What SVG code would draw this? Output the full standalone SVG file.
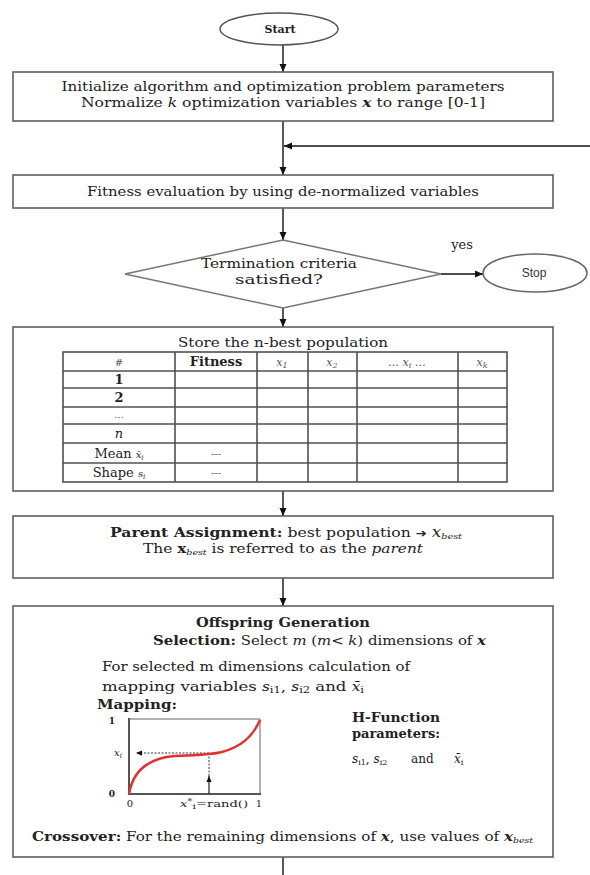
<svg xmlns="http://www.w3.org/2000/svg" width="590" height="875" viewBox="0 0 590 875">
<defs>
<style>
.box{fill:#fff;stroke:#606060;stroke-width:1.6}
.ln{stroke:#111;stroke-width:1.4;fill:none}
.t{font-family:"DejaVu Serif","Liberation Serif",serif;font-size:13px;fill:#222}
.s{font-family:"Liberation Sans",Arial,sans-serif;font-size:12px;fill:#333}
.b{font-weight:bold}
.i{font-style:italic}
.g{fill:#555}
.tbl{stroke:#505050;stroke-width:1.6;fill:none}
.sm{font-size:10px}
.sub{font-size:8px}
.hp{font-size:12px}
</style>
<marker id="ah" viewBox="0 0 8 8" refX="8" refY="4" markerWidth="8" markerHeight="8" markerUnits="userSpaceOnUse" orient="auto">
<path d="M0,0.5 L8,4 L0,7.5 z" fill="#111"/>
</marker>
<marker id="ahs" viewBox="0 0 8 8" refX="8" refY="4" markerWidth="6" markerHeight="6" markerUnits="userSpaceOnUse" orient="auto">
<path d="M0,0.5 L8,4 L0,7.5 z" fill="#111"/>
</marker>
</defs>
<rect width="590" height="875" fill="#fff"/>

<g id="connectors">
<line class="ln" x1="283" y1="45" x2="283" y2="72" marker-end="url(#ah)"/>
<line class="ln" x1="283" y1="121" x2="283" y2="175" marker-end="url(#ah)"/>
<line class="ln" x1="590" y1="146" x2="284" y2="146" marker-end="url(#ah)"/>
<line class="ln" x1="283" y1="208" x2="283" y2="240" marker-end="url(#ah)"/>
<line class="ln" x1="441" y1="274" x2="483" y2="274" marker-end="url(#ah)"/>
<line class="ln" x1="283" y1="308" x2="283" y2="327" marker-end="url(#ah)"/>
<line class="ln" x1="283" y1="491" x2="283" y2="516" marker-end="url(#ah)"/>
<line class="ln" x1="283" y1="578" x2="283" y2="606" marker-end="url(#ah)"/>
<line class="ln" x1="283" y1="857" x2="283" y2="875"/>
</g>

<g id="start">
<ellipse cx="279" cy="29" rx="59" ry="16" fill="#fff" stroke="#555" stroke-width="1.5"/>
<text class="t b" x="280" y="33" text-anchor="middle" style="font-size:11px">Start</text>
</g>

<g id="init">
<rect class="box" x="13" y="72" width="540" height="49"/>
<text class="t" x="283" y="91" text-anchor="middle" textLength="443" lengthAdjust="spacingAndGlyphs">Initialize algorithm and optimization problem parameters</text>
<text class="t" x="283" y="107" text-anchor="middle" textLength="404" lengthAdjust="spacingAndGlyphs">Normalize <tspan class="i">k</tspan> optimization variables <tspan class="b i">x</tspan> to range [0-1]</text>
</g>

<g id="fitness">
<rect class="box" x="13" y="175" width="540" height="33"/>
<text class="t" x="283" y="196" text-anchor="middle" textLength="392" lengthAdjust="spacingAndGlyphs">Fitness evaluation by using de-normalized variables</text>
</g>

<g id="termination">
<polygon points="283,240 441,274 283,308 125,274" fill="#fff" stroke="#777" stroke-width="1.5"/>
<text class="t" x="279" y="268" text-anchor="middle" textLength="156" lengthAdjust="spacingAndGlyphs">Termination criteria</text>
<text class="t" x="279" y="284" text-anchor="middle" textLength="88" lengthAdjust="spacingAndGlyphs">satisfied?</text>
<text class="t" x="462" y="249" text-anchor="middle">yes</text>
</g>

<g id="stop">
<ellipse cx="535" cy="273" rx="52" ry="19" fill="#fff" stroke="#666" stroke-width="1.5"/>
<text class="s" x="534" y="277" text-anchor="middle">Stop</text>
</g>

<g id="store">
<rect class="box" x="13" y="327" width="540" height="164"/>
<text class="t" x="283" y="347" text-anchor="middle" textLength="210" lengthAdjust="spacingAndGlyphs">Store the n-best population</text>
<g class="tbl">
<rect x="63" y="352" width="444" height="130"/>
<line x1="63" y1="371" x2="507" y2="371"/>
<line x1="63" y1="388" x2="507" y2="388"/>
<line x1="63" y1="407" x2="507" y2="407"/>
<line x1="63" y1="424" x2="507" y2="424"/>
<line x1="63" y1="443" x2="507" y2="443"/>
<line x1="63" y1="463" x2="507" y2="463"/>
<line x1="175" y1="352" x2="175" y2="482"/>
<line x1="257" y1="352" x2="257" y2="482"/>
<line x1="308" y1="352" x2="308" y2="482"/>
<line x1="357" y1="352" x2="357" y2="482"/>
<line x1="458" y1="352" x2="458" y2="482"/>
</g>
<text class="t g sm" x="119" y="366" text-anchor="middle">#</text>
<text class="t b" x="216" y="366" text-anchor="middle">Fitness</text>
<text class="t i g" x="282" y="366" text-anchor="middle" style="font-size:11px">x<tspan dy="2" class="sub">1</tspan></text>
<text class="t i g" x="332" y="366" text-anchor="middle" style="font-size:11px">x<tspan dy="2" class="sub">2</tspan></text>
<text class="t i g" x="407" y="366" text-anchor="middle" style="font-size:11px"><tspan style="font-style:normal">…</tspan> x<tspan dy="2" class="sub">i</tspan><tspan dy="-2" style="font-style:normal"> …</tspan></text>
<text class="t i g" x="482" y="366" text-anchor="middle" style="font-size:11px">x<tspan dy="2" class="sub">k</tspan></text>
<text class="t b" x="119" y="384" text-anchor="middle">1</text>
<text class="t b" x="119" y="402" text-anchor="middle">2</text>
<text class="t g sm" x="119" y="418" text-anchor="middle">…</text>
<text class="t i" x="119" y="438" text-anchor="middle">n</text>
<text class="t" x="119" y="458" text-anchor="middle">Mean  <tspan class="i sm">x̄</tspan><tspan class="i" dy="2" style="font-size:7px">i</tspan></text>
<text class="t" x="119" y="477" text-anchor="middle">Shape <tspan class="i sm">s</tspan><tspan class="i" dy="2" style="font-size:7px">i</tspan></text>
<text class="t g sm" x="216" y="457" text-anchor="middle">---</text>
<text class="t g sm" x="216" y="476" text-anchor="middle">---</text>
</g>

<g id="parent">
<rect class="box" x="13" y="516" width="540" height="62"/>
<text class="t" x="286" y="537" text-anchor="middle" textLength="352" lengthAdjust="spacingAndGlyphs"><tspan class="b">Parent Assignment:</tspan> best population <tspan class="b" style="font-family:'DejaVu Sans',sans-serif;font-size:11px">➔</tspan> <tspan class="i" style="font-size:14px">x</tspan><tspan class="i sub" dy="2">best</tspan></text>
<text class="t" x="283" y="553" text-anchor="middle" textLength="280" lengthAdjust="spacingAndGlyphs">The <tspan class="b">x</tspan><tspan class="i sub" dy="2">best</tspan><tspan dy="-2"> is referred to as the </tspan><tspan class="i">parent</tspan></text>
</g>

<g id="offspring">
<rect class="box" x="13" y="606" width="540" height="251"/>
<text class="t b" x="283" y="627" text-anchor="middle" textLength="174" lengthAdjust="spacingAndGlyphs">Offspring Generation</text>
<text class="t" x="153" y="645" textLength="333" lengthAdjust="spacingAndGlyphs"><tspan class="b">Selection:</tspan> Select <tspan class="i">m</tspan> (<tspan class="i">m</tspan>&lt; <tspan class="i">k</tspan>) dimensions of <tspan class="b i">x</tspan></text>
<text class="t" x="102" y="671" textLength="308" lengthAdjust="spacingAndGlyphs">For selected m dimensions calculation of</text>
<text class="t" x="102" y="691" textLength="262" lengthAdjust="spacingAndGlyphs">mapping variables <tspan class="i" style="font-size:12px">s</tspan><tspan dy="2" style="font-size:9px">i1</tspan><tspan dy="-2">, </tspan><tspan class="i" style="font-size:12px">s</tspan><tspan dy="2" style="font-size:9px">i2</tspan><tspan dy="-2">   and   </tspan><tspan class="i" style="font-size:12px">x̄</tspan><tspan dy="2" style="font-size:9px">i</tspan></text>
<text class="t b" x="97" y="709" textLength="80" lengthAdjust="spacingAndGlyphs">Mapping:</text>
<text class="t b" x="352" y="722" textLength="88" lengthAdjust="spacingAndGlyphs">H-Function</text>
<text class="t b" x="352" y="738" textLength="88" lengthAdjust="spacingAndGlyphs">parameters:</text>
<text class="t hp" x="352" y="763"><tspan class="i">s</tspan><tspan dy="2" class="sub">i1</tspan><tspan dy="-2">, </tspan><tspan class="i">s</tspan><tspan dy="2" class="sub">i2</tspan></text>
<text class="t hp" x="411" y="763">and</text>
<text class="t hp" x="454" y="763"><tspan class="i">x̄</tspan><tspan dy="2" class="sub">i</tspan></text>
<g id="mapping-chart">
<line x1="129" y1="719" x2="260" y2="719" stroke="#999" stroke-width="1.5"/>
<line x1="260" y1="719" x2="260" y2="794" stroke="#999" stroke-width="1.5"/>
<line x1="129" y1="718" x2="129" y2="794" stroke="#555" stroke-width="2"/>
<line x1="128" y1="794" x2="261" y2="794" stroke="#555" stroke-width="2"/>
<line x1="209" y1="753" x2="136" y2="753" stroke="#333" stroke-width="1" stroke-dasharray="2,1.5" marker-end="url(#ahs)"/>
<line x1="209" y1="794" x2="209" y2="776" stroke="#222" stroke-width="1.2" marker-end="url(#ahs)"/>
<line x1="209" y1="776" x2="209" y2="753" stroke="#333" stroke-width="1" stroke-dasharray="2,1.5"/>
<path d="M129,794 C133,770 150,758 175,756 C195,755 210,755 222,752 C240,747 252,738 260,720" fill="none" stroke="#e03030" stroke-width="2.5"/>
<text class="t b" x="112" y="724" text-anchor="middle" style="font-size:9px">1</text>
<text class="t b" x="112" y="797" text-anchor="middle" style="font-size:9px">0</text>
<text class="t i" x="118" y="756" text-anchor="middle" style="font-size:10px">x<tspan dy="2" style="font-size:7px">i</tspan></text>
<text class="t" x="130" y="807" text-anchor="middle" style="font-size:10px">0</text>
<text class="t" x="214" y="807" text-anchor="middle" style="font-size:10px" textLength="68" lengthAdjust="spacingAndGlyphs"><tspan class="i">x</tspan><tspan dy="-3" style="font-size:8px">*</tspan><tspan dy="5" style="font-size:8px">i</tspan><tspan dy="-2">=rand()</tspan></text>
<text class="t" x="259" y="807" text-anchor="middle" style="font-size:10px">1</text>
</g>
<text class="t" x="32" y="841" textLength="501" lengthAdjust="spacingAndGlyphs"><tspan class="b">Crossover:</tspan> For the remaining dimensions of <tspan class="b i">x</tspan>, use values of <tspan class="b i">x</tspan><tspan class="i sub" dy="2">best</tspan></text>
</g>
</svg>
